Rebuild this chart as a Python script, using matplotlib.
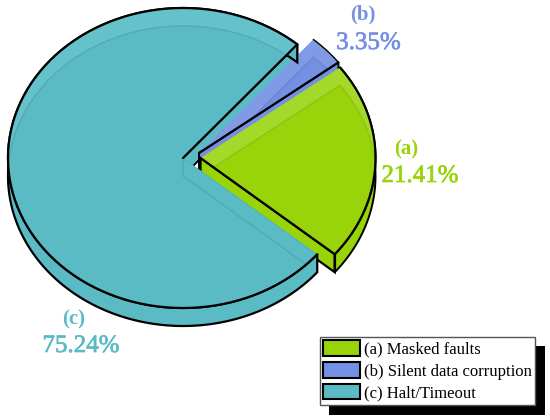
import numpy as np
import matplotlib.pyplot as plt
plt.switch_backend('agg')
from matplotlib.patches import Polygon, Patch, Rectangle
import matplotlib.patheffects as pe

labels = ["(a)", "(b)", "(c)"]
shares = [21.41, 3.35, 75.24]
legend_names = ["(a) Masked faults", "(b) Silent data corruption", "(c) Halt/Timeout"]
colors = ["#99d40a", "#7490e2", "#5abbc5"]
light = ["#a4d92a", "#809ae5", "#66c2ca"]
seams = ["#8dc312", "#6a86d2", "#52abb5"]

plt.rcParams['font.family'] = ['Liberation Serif', 'DejaVu Serif']

fig = plt.figure(figsize=(5.5, 4.2), dpi=100)
ax = fig.add_axes([0, 0, 1, 1])
ax.set_xlim(0, 550)
ax.set_ylim(420, 0)
ax.axis('off')

A, B, DEPTH = 175, 150, 18
START = -39.9
centers = [(200.5, 158), (199, 153), (183, 158)]
label_pos = [(406, 149, 176, 420), (362.5, 14, 43, 368.5), (74, 319, 346, 81)]

# start/end angle of each slice from the shares
spans = [s * 3.6 for s in shares]
starts = START + np.cumsum([0] + spans[:-1])


def arc(i, dy=0):
    t = np.radians(np.linspace(starts[i], starts[i] + spans[i], 200))
    cx, cy = centers[i]
    return np.column_stack([cx + A * np.cos(t), cy + dy - B * np.sin(t)])


def wedge(i, dy=0):
    cx, cy = centers[i]
    return np.vstack([[cx, cy + dy], arc(i, dy)])


def side(p, q):
    return np.array([p, q, q + [0, DEPTH], p + [0, DEPTH]])


def band(i):
    return np.vstack([arc(i), arc(i, DEPTH)[::-1]])


def top_face(i, z):
    # lighter rim is where the shifted floor does not show through the top
    top = Polygon(wedge(i), closed=True, fc=light[i], ec='none', zorder=z)
    ax.add_patch(top)
    floor = Polygon(wedge(i, DEPTH), closed=True, fc=colors[i], ec=seams[i], lw=1.0, zorder=z)
    ax.add_patch(floor)
    floor.set_clip_path(top)
    return top


def line(pts, z, lw=1.6):
    ax.plot(pts[:, 0], pts[:, 1], color='black', lw=lw, zorder=z, solid_capstyle='round')


apex = [np.array(c, dtype=float) for c in centers]

# teal inner face seen through the gap
ax.add_patch(Polygon(side(apex[2], arc(2)[0]), closed=True, fc=colors[2], ec='black', lw=1.4, zorder=1))

# blue slice
ax.add_patch(Polygon(side(apex[1], arc(1)[0]), closed=True, fc=colors[1], ec='black', lw=1.4, zorder=2))
top_face(1, 2.1)
line(np.array([apex[1], arc(1)[0]]), 2.2)
line(arc(1), 2.2, 1.0)

# green slice
ax.add_patch(Polygon(side(apex[0], arc(0)[0]), closed=True, fc=colors[0], ec='black', lw=1.6, zorder=3))
ax.add_patch(Polygon(band(0), closed=True, fc=colors[0], ec='black', lw=1.4, zorder=3))
top_face(0, 3.1)
line(np.array([apex[0], arc(0)[0]]), 3.2)
line(arc(0), 3.2)
line(np.array([arc(0)[0], arc(0)[0] + [0, DEPTH]]), 3.2)

# teal slice, in front of the green side wall
ax.add_patch(Polygon(band(2), closed=True, fc=colors[2], ec='black', lw=1.6, zorder=4))
teal_top = top_face(2, 4.1)
# front cut wall only shows as a faint seam through the top
wall = Polygon(side(apex[2], arc(2)[-1]), closed=True, fc=colors[2], ec=seams[2], lw=1.0, zorder=4.15)
ax.add_patch(wall)
wall.set_clip_path(teal_top)
line(arc(2), 4.2)
line(np.array([apex[2], arc(2)[0]]), 4.2)

# percentage labels
for i, (x, y1, y2, x2) in enumerate(label_pos):
    ax.text(x, y1, labels[i], color=colors[i], fontsize=15, fontweight='bold', ha='center', va='center', zorder=6)
    t = ax.text(x2, y2, "%.2f%%" % shares[i], color=colors[i], fontsize=18, ha='center', va='center', zorder=6)
    t.set_path_effects([pe.withStroke(linewidth=0.5, foreground=colors[i])])

# legend with a hard offset shadow
ax.add_patch(Rectangle((329, 346), 216, 69, fc='black', ec='none', zorder=7))
handles = [Patch(fc=c, ec='black', lw=1.5) for c in colors]
leg = ax.legend(handles, legend_names, loc='upper left', bbox_to_anchor=(320, 337),
                bbox_transform=ax.transData, fancybox=False, framealpha=1, edgecolor='#555555',
                fontsize=12, handlelength=2.2, handleheight=1.05, handletextpad=0.22,
                labelspacing=0.26, borderpad=0.2, borderaxespad=0)
leg.set_zorder(8)
leg.get_frame().set_linewidth(1.0)

plt.savefig("out.png", dpi=100)
